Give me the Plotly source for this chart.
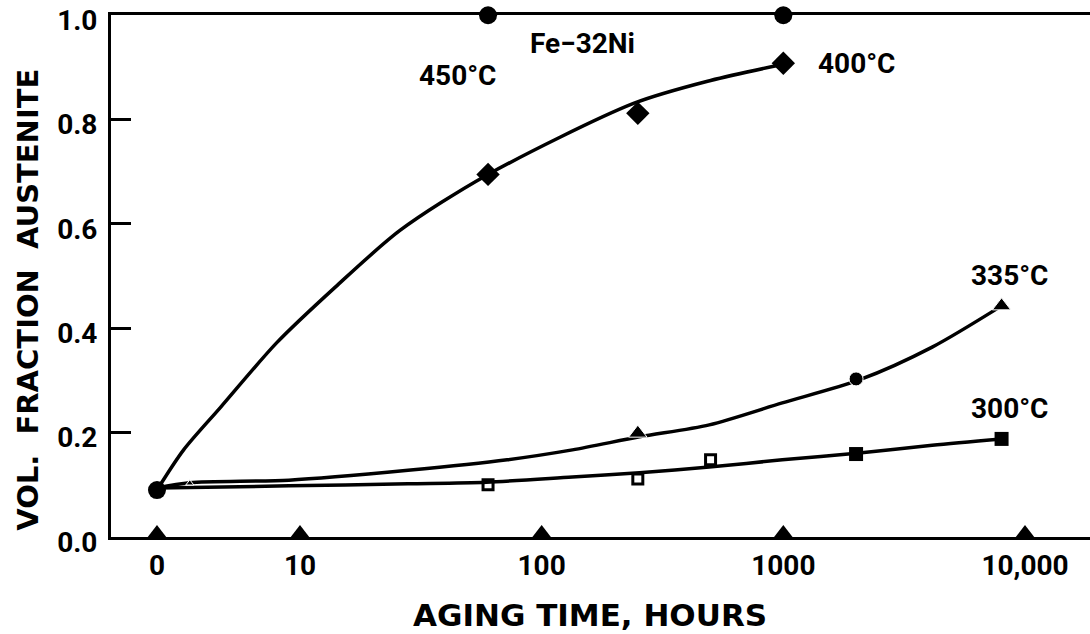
import math
import plotly.graph_objects as go

# Aging time (hours) and volume fraction of austenite, Fe-32Ni
# The "0 h" (as-quenched) condition is plotted at a fixed spot left of 10 h.
ZERO_AT = 2.56

start_h = [0]
start_v = [0.09]

t450_h = [60, 1000]
t450_v = [1.0, 1.0]

t400_h = [60, 250, 1000]
t400_v = [0.695, 0.812, 0.908]

t335_h = [3.5, 250, 2000, 8000]
t335_v = [0.103, 0.199, 0.303, 0.443]

t300_open_h = [60, 250, 500]
t300_open_v = [0.100, 0.111, 0.148]
t300_fill_h = [2000, 8000]
t300_fill_v = [0.159, 0.188]

# smoothed trend curves
curve400_h = [0, 3.3, 4.7, 8, 14, 26, 59, 240, 500, 1000]
curve400_v = [0.09, 0.167, 0.249, 0.372, 0.479, 0.588, 0.693, 0.831, 0.875, 0.906]
curve335_h = [0, 3.5, 9, 28, 72, 134, 254, 494, 990, 2060, 4130, 8000]
curve335_v = [0.094, 0.104, 0.109, 0.128, 0.148, 0.167, 0.192, 0.215, 0.257, 0.301, 0.364, 0.443]
curve300_h = [0, 9, 28, 59, 134, 254, 494, 990, 2060, 4130, 8000]
curve300_v = [0.094, 0.098, 0.102, 0.105, 0.115, 0.123, 0.134, 0.148, 0.161, 0.176, 0.188]

tick_h = [0, 10, 100, 1000, 10000]
tick_text = ["0", "10", "100", "1000", "10,000"]
y_ticks = [0.0, 0.2, 0.4, 0.6, 0.8, 1.0]

# lift so the triangular time-axis ticks sit on top of the axis line
TICK_LIFT = 0.0075


def ax(hours):
    return [ZERO_AT if h == 0 else h for h in hours]


def lg(h):
    return math.log10(ZERO_AT if h == 0 else h)


INK = "black"
NARROW = "Roboto, Liberation Sans, sans-serif"
WIDE = "DejaVu Sans, Verdana, sans-serif"

fig = go.Figure()

for hx, vy in [(curve400_h, curve400_v), (curve335_h, curve335_v), (curve300_h, curve300_v)]:
    fig.add_trace(go.Scatter(x=ax(hx), y=vy, mode="lines",
                             line=dict(color=INK, width=3.5, shape="spline", smoothing=0.8),
                             hoverinfo="skip"))

# triangular tick marks on the time axis
fig.add_trace(go.Scatter(x=ax(tick_h), y=[TICK_LIFT] * len(tick_h), mode="markers",
                         marker=dict(symbol="triangle-up", size=16, color=INK, opacity=1),
                         cliponaxis=False, hoverinfo="skip"))

fig.add_trace(go.Scatter(x=ax(t300_open_h), y=t300_open_v, mode="markers",
                         marker=dict(symbol="square-open", size=10, color=INK, opacity=1,
                                     line=dict(width=3)),
                         cliponaxis=False))
fig.add_trace(go.Scatter(x=ax(t300_fill_h), y=t300_fill_v, mode="markers",
                         marker=dict(symbol="square", size=14, color=INK, opacity=1),
                         cliponaxis=False))
fig.add_trace(go.Scatter(x=ax(t335_h), y=t335_v, mode="markers",
                         marker=dict(symbol=["triangle-up", "triangle-up", "circle", "triangle-up"],
                                     size=[7, 16, 14, 16], color=INK, opacity=1),
                         cliponaxis=False))
fig.add_trace(go.Scatter(x=ax(t400_h), y=t400_v, mode="markers",
                         marker=dict(symbol="diamond", size=18, color=INK, opacity=1),
                         cliponaxis=False))
fig.add_trace(go.Scatter(x=ax(t450_h), y=t450_v, mode="markers",
                         marker=dict(symbol="circle", size=18, color=INK, opacity=1),
                         cliponaxis=False))
fig.add_trace(go.Scatter(x=ax(start_h), y=start_v, mode="markers",
                         marker=dict(symbol="circle", size=18, color=INK, opacity=1),
                         cliponaxis=False))

labels = [
    ("450°C", 45, 0.885),
    ("400°C", 2000, 0.908),
    ("335°C", 8600, 0.502),
    ("300°C", 8600, 0.247),
    ("Fe−32Ni", 148, 0.946),
]
for text, h, v in labels:
    fig.add_annotation(x=lg(h), y=v, xref="x", yref="y", text=f"<b>{text}</b>",
                       xanchor="center", yanchor="middle",
                       showarrow=False, font=dict(family=NARROW, size=28, color=INK))

# axis titles
fig.add_annotation(x=-0.085, y=0.454, xref="paper", yref="paper",
                   xanchor="center", yanchor="middle",
                   text="<b>VOL.  FRACTION  AUSTENITE</b>", textangle=-90,
                   showarrow=False, font=dict(family=WIDE, size=29, color=INK))
fig.add_annotation(x=0.489, y=-0.149, xref="paper", yref="paper",
                   xanchor="center", yanchor="middle",
                   text="<b>AGING TIME, HOURS</b>",
                   showarrow=False, font=dict(family=WIDE, size=31, color=INK))

fig.update_layout(
    width=1090, height=634,
    margin=dict(l=111, r=0, t=15, b=97),
    paper_bgcolor="white", plot_bgcolor="white",
    showlegend=False,
    xaxis=dict(type="log", range=[0.218, 4.269], automargin=False,
               tickvals=ax(tick_h), ticktext=[f"<b>{t}</b>" for t in tick_text], ticks="",
               showgrid=False, zeroline=False,
               showline=True, linecolor=INK, linewidth=3, mirror=True,
               tickfont=dict(family=NARROW, size=28, color=INK),
               ticklabelstandoff=1, ticklabeloverflow="allow"),
    yaxis=dict(range=[0, 1.0005], tickvals=y_ticks, automargin=False,
               ticktext=[f"<b>{v:.1f}</b>" for v in y_ticks],
               ticks="inside", ticklen=20, tickwidth=3, tickcolor=INK,
               showgrid=False, zeroline=False,
               showline=True, linecolor=INK, linewidth=3,
               tickfont=dict(family=NARROW, size=28, color=INK),
               ticklabelstandoff=5, ticklabelshift=5, ticklabeloverflow="allow"),
)

fig.write_html("out.html")
